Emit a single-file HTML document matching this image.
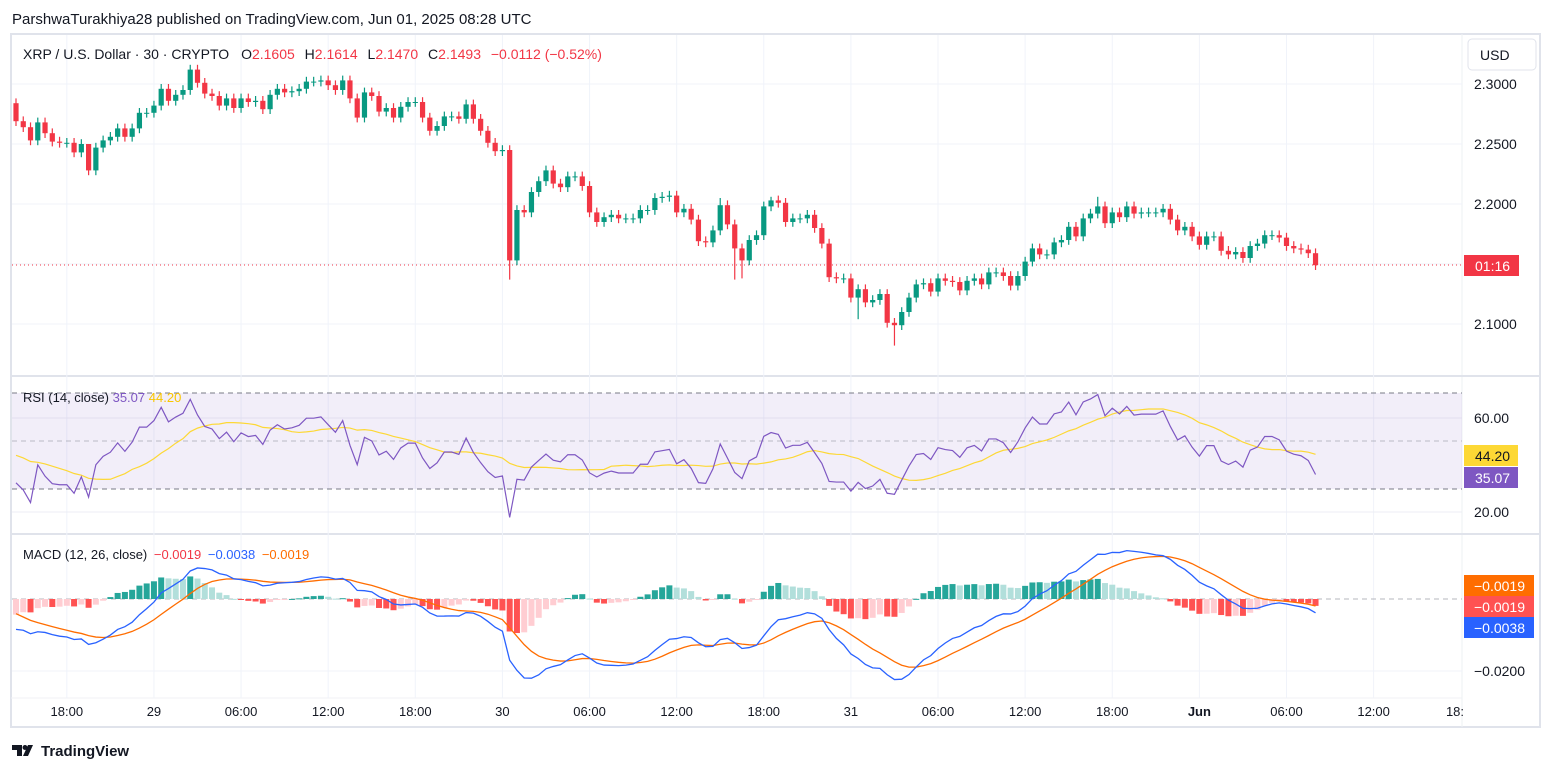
<!DOCTYPE html>
<html><head><meta charset="utf-8">
<style>
html,body{margin:0;padding:0;background:#fff;}
body{width:1553px;height:772px;overflow:hidden;font-family:"Liberation Sans",sans-serif;}
svg text{font-family:"Liberation Sans",sans-serif;}
</style></head>
<body>
<svg id="chart" width="1553" height="772" xmlns="http://www.w3.org/2000/svg">
  <text x="12" y="24" font-size="15" fill="#131722">ParshwaTurakhiya28 published on TradingView.com, Jun 01, 2025 08:28 UTC</text>
  <rect x="11" y="34" width="1529" height="693" fill="none" stroke="#e0e3eb" stroke-width="2"/>
  <line x1="1462" y1="34" x2="1462" y2="727" stroke="#eef0f3"/>
  <line x1="11" y1="376" x2="1540" y2="376" stroke="#e0e3eb" stroke-width="2"/>
  <line x1="11" y1="534" x2="1540" y2="534" stroke="#e0e3eb" stroke-width="2"/>
  <line x1="11" y1="698" x2="1462" y2="698" stroke="#f0f2f5"/>
  <g id="grid"></g>
  <rect x="12" y="393" width="1450" height="96" fill="#7e57c2" fill-opacity="0.1"/>
  <line x1="12" y1="393" x2="1462" y2="393" stroke="#787b86" stroke-dasharray="5,4"/>
  <line x1="12" y1="441" x2="1462" y2="441" stroke="#9598a1" stroke-dasharray="5,4" stroke-opacity="0.6"/>
  <line x1="12" y1="489" x2="1462" y2="489" stroke="#787b86" stroke-dasharray="5,4"/>
  <line x1="12" y1="599" x2="1462" y2="599" stroke="#9598a1" stroke-dasharray="5,4" stroke-opacity="0.7"/>
  <line x1="12" y1="265" x2="1462" y2="265" stroke="#f23645" stroke-dasharray="1,3"/>
  <g id="candles"></g>
  <g id="rsi"></g>
  <g id="macd"></g>
  <g id="axes" font-size="13" fill="#131722"></g>

  <text x="23" y="59" font-size="14" fill="#131722">XRP / U.S. Dollar · 30 · CRYPTO
    <tspan dx="8">O</tspan><tspan fill="#f23645">2.1605</tspan>
    <tspan dx="6">H</tspan><tspan fill="#f23645">2.1614</tspan>
    <tspan dx="6">L</tspan><tspan fill="#f23645">2.1470</tspan>
    <tspan dx="6">C</tspan><tspan fill="#f23645">2.1493</tspan>
    <tspan dx="6" fill="#f23645">−0.0112 (−0.52%)</tspan></text>
  <text x="23" y="402" font-size="13" fill="#131722">RSI (14, close) <tspan fill="#7e57c2">35.07</tspan> <tspan fill="#f9c600">44.20</tspan></text>
  <text x="23" y="559" font-size="13" fill="#131722">MACD (12, 26, close) <tspan dx="3" fill="#f23645">−0.0019</tspan> <tspan dx="3" fill="#2962ff">−0.0038</tspan> <tspan dx="3" fill="#ff6d00">−0.0019</tspan></text>

  <rect x="1468" y="39" width="68" height="31" rx="4" fill="#fff" stroke="#e0e3eb"/>
  <text x="1480" y="60" font-size="14" fill="#131722">USD</text>
  <rect x="1464" y="255" width="55" height="21" fill="#f23645"/>
  <text x="1475" y="271" font-size="14" fill="#fff">01:16</text>
  <rect x="1464" y="445" width="54" height="21" fill="#fdd835"/>
  <text x="1475" y="461" font-size="14" fill="#131722">44.20</text>
  <rect x="1464" y="467" width="54" height="21" fill="#7e57c2"/>
  <text x="1475" y="483" font-size="14" fill="#fff">35.07</text>
  <rect x="1464" y="575" width="70" height="21" fill="#ff6d00"/>
  <text x="1474" y="591" font-size="14" fill="#fff">−0.0019</text>
  <rect x="1464" y="596" width="70" height="21" fill="#ff5252"/>
  <text x="1474" y="612" font-size="14" fill="#fff">−0.0019</text>
  <rect x="1464" y="617" width="70" height="21" fill="#2962ff"/>
  <text x="1474" y="633" font-size="14" fill="#fff">−0.0038</text>

  <g>
    <path d="M12 745 h10 v11 h-5 v-6 h-5 z M28 745 h5 l-5 11 h-5 z" fill="#131722"/>
    <circle cx="25" cy="747.5" r="2.5" fill="#131722"/>
    <text x="41" y="756" font-size="15" font-weight="bold" fill="#131722">TradingView</text>
  </g>
</svg>
<script>
const closes = [2.269,2.264,2.253,2.268,2.259,2.252,2.251,2.251,2.243,2.250,
2.228,2.247,2.253,2.256,2.263,2.256,2.263,2.276,2.276,2.282,
2.296,2.286,2.291,2.295,2.312,2.301,2.292,2.290,2.282,2.288,
2.280,2.288,2.285,2.286,2.279,2.291,2.296,2.293,2.294,2.296,
2.302,2.302,2.303,2.299,2.295,2.303,2.288,2.272,2.293,2.290,
2.277,2.280,2.272,2.281,2.285,2.285,2.272,2.261,2.265,2.273,
2.273,2.271,2.283,2.271,2.261,2.251,2.244,2.245,2.153,2.195,
2.193,2.210,2.219,2.228,2.217,2.214,2.223,2.223,2.215,2.193,
2.185,2.189,2.191,2.188,2.188,2.188,2.195,2.195,2.205,2.206,
2.207,2.193,2.196,2.187,2.169,2.168,2.178,2.199,2.183,2.163,
2.153,2.170,2.174,2.198,2.203,2.201,2.185,2.188,2.188,2.191,
2.180,2.167,2.139,2.138,2.138,2.122,2.129,2.118,2.120,2.125,
2.101,2.099,2.110,2.122,2.133,2.134,2.127,2.138,2.136,2.135,
2.128,2.136,2.138,2.133,2.143,2.143,2.140,2.132,2.140,2.152,
2.163,2.158,2.158,2.168,2.170,2.181,2.173,2.188,2.192,2.198,
2.184,2.193,2.189,2.198,2.192,2.193,2.193,2.193,2.196,2.187,
2.178,2.181,2.173,2.166,2.173,2.173,2.161,2.158,2.160,2.155,
2.165,2.167,2.174,2.174,2.172,2.165,2.163,2.162,2.159,2.149];
const firstOpen = 2.284;
const lowOverrides = {68:2.137, 99:2.137, 100:2.138, 121:2.082, 116:2.104};
const highOverrides = {10:2.236, 24:2.316, 68:2.249, 97:2.205, 104:2.206, 149:2.206};
const timeLabels = ["18:00","29","06:00","12:00","18:00","30","06:00","12:00","18:00","31","06:00","12:00","18:00","Jun","06:00","12:00","18:"];
const priceTicks = [2.30,2.25,2.20,2.10];
const priceTickLabels = ["2.3000","2.2500","2.2000","2.1000"];
const rsiTicks = [60,20];
const macdTicks = [-0.02];

const NS="http://www.w3.org/2000/svg";
function mk(tag, attrs, parent){const e=document.createElementNS(NS,tag);for(const k in attrs)e.setAttribute(k,attrs[k]);parent.appendChild(e);return e;}
const X = i => 16 + i*7.26;
const Yp = p => 84 + (2.3-p)*1200;
const Yr = v => 418 + (60-v)*2.35;
const Ym = v => 599 - v*3600;

const grid=document.getElementById('grid'), axes=document.getElementById('axes');
timeLabels.forEach((t,k)=>{
  const x=X(7+12*k);
  if(x<1460){
    const l=mk('line',{x1:x,y1:35,x2:x,y2:698,stroke:'#f0f3fa'},grid);
    
    
  }
  const tx=mk('text',{x:Math.min(x,1455),y:716,'text-anchor':'middle','font-weight':t==='Jun'?'bold':'normal'},axes);
  tx.textContent=t;
  
  
});
[...priceTicks,2.15].forEach(p=>{
  const l=mk('line',{x1:12,y1:Yp(p),x2:1462,y2:Yp(p),stroke:'#f0f3fa'},grid);
  
  
});
priceTicks.forEach((p,k)=>{
  const t=mk('text',{x:1474,y:Yp(p)+5,'font-size':14},axes);t.textContent=priceTickLabels[k];
  
  
});
rsiTicks.forEach(v=>{
  const l=mk('line',{x1:12,y1:Yr(v),x2:1462,y2:Yr(v),stroke:'#eceef4'},grid);
  
  
  const t=mk('text',{x:1474,y:Yr(v)+5,'font-size':14},axes);t.textContent=v.toFixed(2);
  
  
});
macdTicks.forEach(v=>{
  const l=mk('line',{x1:12,y1:Ym(v),x2:1462,y2:Ym(v),stroke:'#f0f3fa'},grid);
  
  
  const t=mk('text',{x:1474,y:Ym(v)+5,'font-size':14},axes);t.textContent='−'+Math.abs(v).toFixed(4);
  
  
});

const cg=document.getElementById('candles');
closes.forEach((c,i)=>{
  const o = i===0?firstOpen:closes[i-1];
  const up=c>=o, col=up?'#089981':'#f23645';
  const hi = highOverrides[i]!==undefined?highOverrides[i]:Math.max(o,c)+0.004;
  const lo = lowOverrides[i]!==undefined?lowOverrides[i]:Math.min(o,c)-0.004;
  const x=X(i);
  const w=mk('line',{x1:x,y1:Yp(hi),x2:x,y2:Yp(lo),stroke:col,'stroke-width':1.2},cg);
  
  
  const top=Yp(Math.max(o,c)), h=Math.max(1,Yp(Math.min(o,c))-top);
  const b=mk('rect',{x:x-2.6,y:top,width:5.2,height:h,fill:col},cg);
  
  
});

const rsiVals=[]; let ag=0.0012, al=0.0025;
closes.forEach((c,i)=>{
  if(i>0){const d=c-closes[i-1];ag=(ag*13+Math.max(d,0))/14;al=(al*13+Math.max(-d,0))/14;}
  rsiVals.push(100-100/(1+ag/al));
});
const rsiMA=[]; const buf=new Array(14).fill(45);
rsiVals.forEach(v=>{buf.shift();buf.push(v);rsiMA.push(buf.reduce((a,b)=>a+b,0)/14);});
const rg=document.getElementById('rsi');
const ma=mk('polyline',{points:rsiMA.map((v,i)=>X(i)+','+Yr(v)).join(' '),fill:'none',stroke:'#fdd835','stroke-width':1.2},rg);


const rl=mk('polyline',{points:rsiVals.map((v,i)=>X(i)+','+Yr(v)).join(' '),fill:'none',stroke:'#7e57c2','stroke-width':1.2},rg);



let e12=closes[0]+0.007, e26=closes[0]+0.0155, sig=-0.003;
const macdVals=[], sigVals=[], histVals=[];
closes.forEach(c=>{
  e12+= (c-e12)*2/13; e26+=(c-e26)*2/27;
  const m=e12-e26; sig+=(m-sig)*2/10;
  macdVals.push(m); sigVals.push(sig); histVals.push(m-sig);
});
const mg=document.getElementById('macd');
histVals.forEach((h,i)=>{
  const prev=i>0?histVals[i-1]:h;
  const col = h>=0 ? (h>=prev?'#26a69a':'#b2dfdb') : (h<prev?'#ff5252':'#ffcdd2');
  const y0=Ym(0), y1=Ym(h);
  const r=mk('rect',{x:X(i)-3,y:Math.min(y0,y1),width:6,height:Math.max(1,Math.abs(y1-y0)),fill:col},mg);
  
  
});
const sl=mk('polyline',{points:sigVals.map((v,i)=>X(i)+','+Ym(v)).join(' '),fill:'none',stroke:'#ff6d00','stroke-width':1.3},mg);


const ml=mk('polyline',{points:macdVals.map((v,i)=>X(i)+','+Ym(v)).join(' '),fill:'none',stroke:'#2962ff','stroke-width':1.3},mg);


</script>
</body></html>
